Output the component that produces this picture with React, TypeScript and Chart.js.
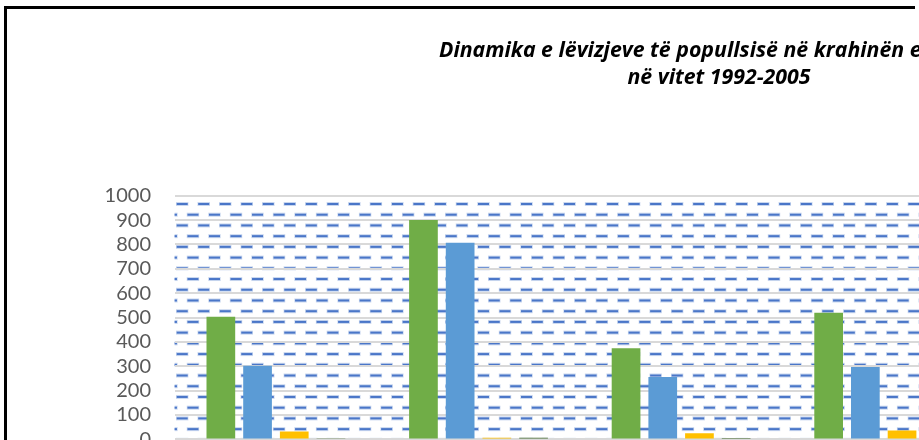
import React, { useEffect, useRef } from "react";
import { Chart, registerables } from "chart.js";

Chart.register(...registerables);

// Data (categories 5 and 6 lie outside the visible crop)
const categories = ["Kategoria 1", "Kategoria 2", "Kategoria 3", "Kategoria 4", "Kategoria 5", "Kategoria 6"];
const seriesNames = ["Seria 1", "Seria 2", "Seria 3", "Seria 4"];
const series1 = [503, 900, 374, 520, null, null];
const series2 = [302, 807, 256, 297, null, null];
const series3 = [32, 7, 25, 37, null, null];
const series4 = [5, 7, 2, 3, null, null];
const titleLine1 = "Dinamika e lëvizjeve të popullsisë në krahinën e";
const titleLine2 = "në vitet 1992-2005";
const yMin = 0;
const yMax = 1000;
const yStep = 100;

const colors = ["#70AD47", "#5B9BD5", "#FFC000", "#43682B"];
const TITLE_SIZE = 21.3;
const TITLE_FAMILY = "'Open Sans'";

const patternPlugin = {
  id: "plotPattern",
  beforeDraw(chart: any) {
    const { ctx, chartArea } = chart;
    const { left, top, right, bottom } = chartArea;
    ctx.save();
    ctx.fillStyle = "#ffffff";
    ctx.fillRect(left, top, right - left, bottom - top);
    ctx.beginPath();
    ctx.rect(left, top, right - left, bottom - top);
    ctx.clip();
    const period = 21.52;
    const dash = 11;
    const rowStep = 10.72;
    let row = 0;
    for (let y = top + 8.3; y < bottom + 2; y += rowStep, row++) {
      const x0 = left + 2.1 + (row % 2 ? period / 2 : 0) - period;
      for (let x = x0; x < right; x += period) {
        ctx.fillStyle = "rgba(100,140,210,0.35)";
        ctx.fillRect(x - 0.7, y - 2, dash + 1.4, 4);
        ctx.fillStyle = "#4a76c8";
        ctx.fillRect(x, y - 1, dash, 2);
      }
    }
    ctx.restore();
  },
};

export default function App() {
  const canvasRef = useRef<HTMLCanvasElement | null>(null);

  useEffect(() => {
    const canvas = canvasRef.current;
    if (!canvas) return;
    // the title is wider than the visible crop: pad line 1 so its start lands where it does in the picture
    const mctx = canvas.getContext("2d")!;
    mctx.font = `italic bold ${TITLE_SIZE}px ${TITLE_FAMILY}`;
    const w1 = mctx.measureText(titleLine1).width;
    const wsp = mctx.measureText("\u00A0").width || 5;
    const wanted = 2 * (712 - 433);
    const n = Math.max(0, Math.round((wanted - w1) / wsp));
    const titleLines = [titleLine1 + "\u00A0".repeat(n), titleLine2];

    const data = [series1, series2, series3, series4];
    const chart = new Chart(canvas, {
      type: "bar",
      data: {
        labels: categories,
        datasets: data.map((d, i) => ({
          label: seriesNames[i],
          data: d as any,
          backgroundColor: colors[i],
          borderWidth: 0,
          categoryPercentage: 0.7246,
          barPercentage: 0.782,
        })),
      },
      options: {
        responsive: false,
        animation: false,
        devicePixelRatio: 1,
        layout: { padding: { left: 40.8, right: 40.8, top: 0, bottom: 89.6 } },
        plugins: {
          legend: { display: false },
          tooltip: { enabled: false },
          title: {
            display: true,
            text: titleLines,
            color: "#000000",
            font: { family: TITLE_FAMILY, size: TITLE_SIZE, weight: "bold", style: "italic", lineHeight: 26.7 / TITLE_SIZE },
            padding: { top: 28.5, bottom: 104.8 },
          },
        },
        scales: {
          x: {
            grid: { display: false, drawTicks: false },
            border: { display: false },
            ticks: { display: false },
            afterFit: (s: any) => {
              s.height = 0;
            },
          },
          y: {
            min: yMin,
            max: yMax,
            grid: { color: "#d9d9d9", lineWidth: 2, drawTicks: false },
            border: { display: false },
            ticks: {
              stepSize: yStep,
              autoSkip: false,
              color: "#595959",
              padding: 23.6,
              font: { family: "Lato", size: 20 },
              callback: (v: any) => String(v),
            },
            afterFit: (s: any) => {
              s.width = 126.8;
            },
          },
        },
      },
      plugins: [patternPlugin],
    });
    return () => chart.destroy();
  }, []);

  return (
    <div
      style={{
        position: "fixed",
        left: 0,
        top: 0,
        width: 919,
        height: 440,
        overflow: "hidden",
        background: "#ffffff",
      }}
    >
      <canvas
        ref={canvasRef}
        width={1424}
        height={520}
        style={{ position: "absolute", left: 7, top: 9, width: 1424, height: 520, display: "block" }}
      />
      <div
        style={{
          position: "absolute",
          left: 4,
          top: 6,
          width: 911,
          height: 600,
          boxSizing: "border-box",
          borderTop: "3px solid #000",
          borderLeft: "3px solid #000",
          pointerEvents: "none",
        }}
      />
    </div>
  );
}
